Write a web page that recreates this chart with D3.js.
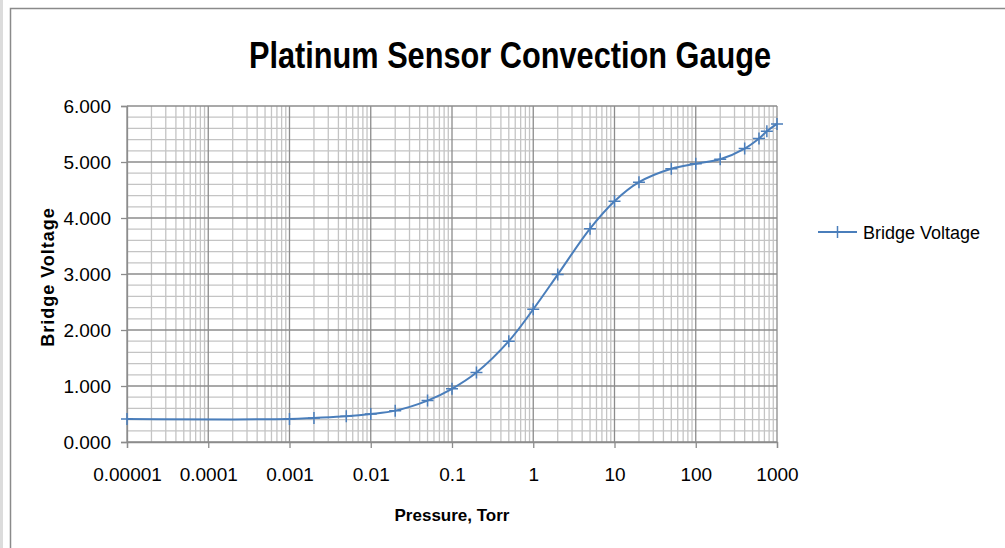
<!DOCTYPE html>
<html>
<head>
<meta charset="utf-8">
<script src="https://cdn.jsdelivr.net/npm/d3@7/dist/d3.min.js"></script>
<style>
  body { margin: 0; background: #fff; }
  text { font-family: "Liberation Sans", Arial, sans-serif; }
</style>
</head>
<body>
<div id="chart"></div>
<script>
// values
var pressure = [0.00001, 0.001, 0.002, 0.005, 0.01, 0.02, 0.05, 0.1, 0.2, 0.5, 1, 2, 5, 10, 20, 50, 100, 200, 400, 600, 750, 1000];
var voltage = [0.41, 0.41, 0.43, 0.46, 0.50, 0.56, 0.74, 0.95, 1.24, 1.80, 2.37, 2.99, 3.81, 4.30, 4.64, 4.88, 4.97, 5.05, 5.24, 5.42, 5.55, 5.68];
var xTicks = [0.00001, 0.0001, 0.001, 0.01, 0.1, 1, 10, 100, 1000];
var xTickLabels = ["0.00001", "0.0001", "0.001", "0.01", "0.1", "1", "10", "100", "1000"];
var yTicks = [0, 1, 2, 3, 4, 5, 6];
var seriesName = "Bridge Voltage";

var width = 1005, height = 548;
var margin = { top: 106, right: 228, bottom: 106, left: 127 };

var svg = d3.select("#chart").append("svg").attr("width", width).attr("height", height);

// outer frame
svg.append("rect").attr("x", 0).attr("y", 0).attr("width", 3).attr("height", height).attr("fill", "#dcdcdc");
svg.append("path").attr("d", "M10.5," + height + "V8.5H" + width)
  .attr("fill", "none").attr("stroke", "#8a8a8a").attr("stroke-width", 1.5);

var xScale = d3.scaleLog().domain([0.00001, 1000]).range([margin.left, width - margin.right]);
var yScale = d3.scaleLinear().domain([0, 6]).range([height - margin.bottom, margin.top]);

var grid = svg.append("g");

// minor vertical lines (2..9 in each decade)
var minorX = [];
for (var e = -5; e < 3; e++) {
  for (var m = 2; m <= 9; m++) minorX.push(m * Math.pow(10, e));
}
grid.selectAll(".vminor").data(minorX).enter().append("line")
  .attr("x1", d => xScale(d)).attr("x2", d => xScale(d))
  .attr("y1", yScale(0)).attr("y2", yScale(6))
  .attr("stroke", "#c4c4c4").attr("stroke-width", 1.3);

var minorY = d3.range(0, 30).map(i => i * 0.2).filter(v => Math.abs(v - Math.round(v)) > 0.01);
grid.selectAll(".hminor").data(minorY).enter().append("line")
  .attr("x1", xScale(0.00001)).attr("x2", xScale(1000))
  .attr("y1", d => yScale(d)).attr("y2", d => yScale(d))
  .attr("stroke", "#c4c4c4").attr("stroke-width", 1.3);

grid.selectAll(".vmajor").data(xTicks).enter().append("line")
  .attr("x1", d => xScale(d)).attr("x2", d => xScale(d))
  .attr("y1", yScale(0)).attr("y2", yScale(6))
  .attr("stroke", "#8c8c8c").attr("stroke-width", 1.3);

grid.selectAll(".hmajor").data(yTicks).enter().append("line")
  .attr("x1", xScale(0.00001)).attr("x2", xScale(1000))
  .attr("y1", d => yScale(d)).attr("y2", d => yScale(d))
  .attr("stroke", "#8c8c8c").attr("stroke-width", 1.3);

// axes
var axisx = d3.axisBottom(xScale).tickValues(xTicks).tickSize(6).tickPadding(20)
  .tickFormat((d, i) => xTickLabels[i]);
var axisy = d3.axisLeft(yScale).tickValues(yTicks).tickSize(6).tickPadding(10)
  .tickFormat(d3.format(".3f"));

var gx = svg.append("g").attr("transform", "translate(0," + yScale(0) + ")").call(axisx);
var gy = svg.append("g").attr("transform", "translate(" + xScale(0.00001) + ",0)").call(axisy);

[gx, gy].forEach(function(g) {
  g.select(".domain").attr("stroke", "#8c8c8c").attr("stroke-width", 1.3);
  g.selectAll(".tick line").attr("stroke", "#8c8c8c").attr("stroke-width", 1.3);
  g.selectAll(".tick text").attr("fill", "#000").style("font-size", "19px");
});

// titles
svg.append("text").attr("transform", "translate(510,68) scale(0.83,1)").attr("text-anchor", "middle")
  .style("font-size", "37px").style("font-weight", "bold").text("Platinum Sensor Convection Gauge");

svg.append("text").attr("x", 452).attr("y", 521).attr("text-anchor", "middle")
  .style("font-size", "17px").style("font-weight", "bold").text("Pressure, Torr");

svg.append("text").attr("transform", "translate(54,277) rotate(-90)").attr("text-anchor", "middle")
  .style("font-size", "18px").style("font-weight", "bold").style("letter-spacing", "1px").text("Bridge Voltage");

// series
var blue = "#4a7ebb";
var pts = pressure.map((p, i) => [p, voltage[i]]);
var line = d3.line().x(d => xScale(d[0])).y(d => yScale(d[1])).curve(d3.curveCatmullRom.alpha(0.5));

svg.append("path").datum(pts).attr("d", line)
  .attr("fill", "none").attr("stroke", blue).attr("stroke-width", 2);

svg.append("g").selectAll("path").data(pts).enter().append("path")
  .attr("d", "M-6,0H6M0,-6V6")
  .attr("transform", d => "translate(" + xScale(d[0]) + "," + yScale(d[1]) + ")")
  .attr("stroke", blue).attr("stroke-width", 1.5).attr("fill", "none");

// legend
var lg = svg.append("g").attr("transform", "translate(818,232)");
lg.append("line").attr("x1", 0).attr("x2", 39).attr("stroke", blue).attr("stroke-width", 2);
lg.append("path").attr("d", "M19.5,-6V6").attr("stroke", blue).attr("stroke-width", 1.5);
lg.append("text").attr("x", 45).attr("y", 7).style("font-size", "18px").text(seriesName);
</script>
</body>
</html>
